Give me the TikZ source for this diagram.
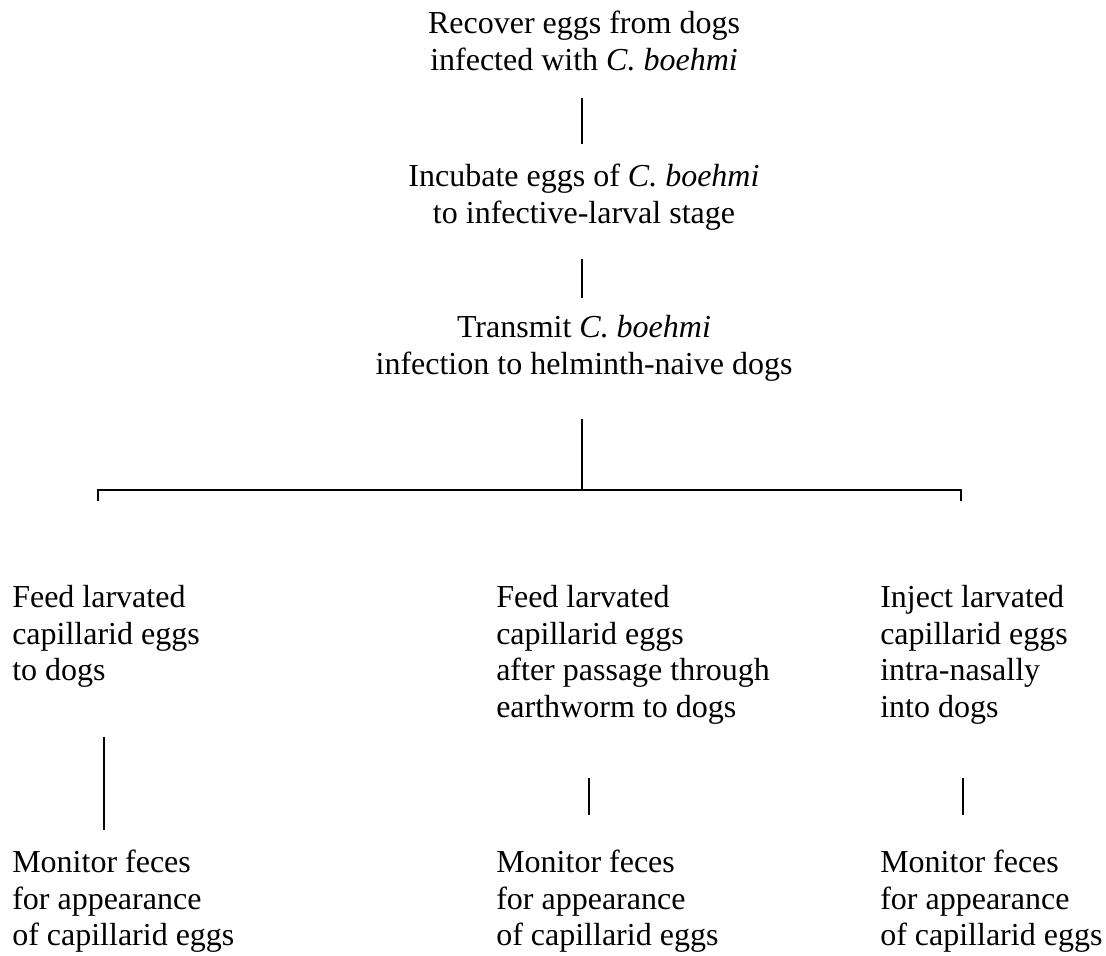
\documentclass[tikz,border=0pt]{standalone}
\usepackage{fontspec}
\setmainfont{Liberation Serif}
\tikzset{
  txt/.style={inner sep=0pt, font=\fontsize{24}{27.4}\selectfont},
  mid/.style={txt, align=center, anchor=north},
  col/.style={txt, align=left, anchor=north west},
  link/.style={line width=2.1pt}
}
\begin{document}
\begin{tikzpicture}[x=0.75pt,y=-0.75pt]
\useasboundingbox (0,0) rectangle (1106,956);

\node[mid] (recover) at (584,11) {Recover eggs from dogs\\infected with \textit{C. boehmi}};
\node[mid] (incubate) at (584,164) {Incubate eggs of \textit{C. boehmi}\\to infective-larval stage};
\node[mid] (transmit) at (584,315) {Transmit \textit{C. boehmi}\\infection to helminth-naive dogs};

\node[col] (feed) at (12,585) {Feed larvated\\capillarid eggs\\to dogs};
\node[col] (feedworm) at (496,585) {Feed larvated\\capillarid eggs\\after passage through\\earthworm to dogs};
\node[col] (inject) at (880,585) {Inject larvated\\capillarid eggs\\intra-nasally\\into dogs};

\node[col] (monitora) at (12,850) {Monitor feces\\for appearance\\of capillarid eggs};
\node[col] (monitorb) at (496,850) {Monitor feces\\for appearance\\of capillarid eggs};
\node[col] (monitorc) at (880,850) {Monitor feces\\for appearance\\of capillarid eggs};

\coordinate (trunk) at (582,0);
\coordinate (fork) at (582,490);
\coordinate (forkl) at (98,490);
\coordinate (forkr) at (961,490);
\coordinate (tickl) at (98,501);
\coordinate (tickr) at (961,501);
\coordinate (stema) at (104,0);
\coordinate (stemb) at (589,0);
\coordinate (stemc) at (963,0);

\draw[link, shorten <=20.25pt, shorten >=15pt] (recover.south -| trunk) -- (incubate.north -| trunk);
\draw[link, shorten <=21pt, shorten >=12.75pt] (incubate.south -| trunk) -- (transmit.north -| trunk);
\draw[link, shorten <=28.5pt] (transmit.south -| trunk) -- (fork);
\draw[link] (tickl) -- (forkl) -- (forkr) -- (tickr);

\draw[link, shorten <=36.75pt, shorten >=15pt] (feed.south -| stema) -- (monitora.north -| stema);
\draw[link, shorten <=40.5pt, shorten >=26.25pt] (feedworm.south -| stemb) -- (monitorb.north -| stemb);
\draw[link, shorten <=40.5pt, shorten >=26.25pt] (inject.south -| stemc) -- (monitorc.north -| stemc);
\end{tikzpicture}
\end{document}
